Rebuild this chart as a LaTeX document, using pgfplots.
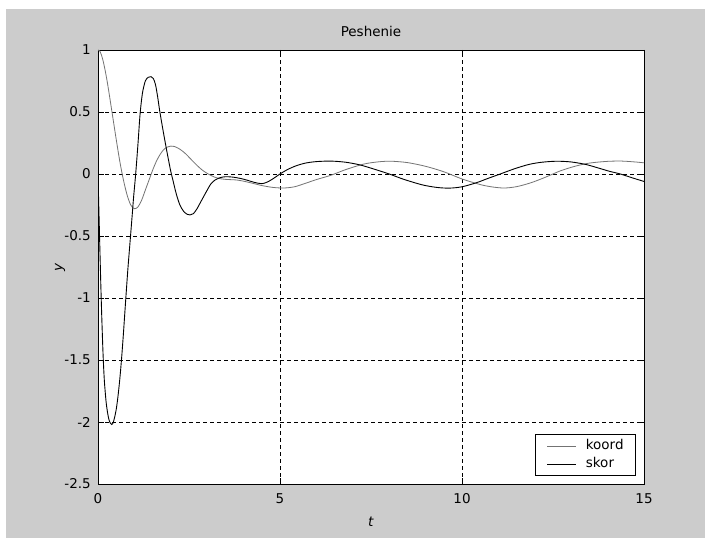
\documentclass[border=0pt]{standalone}
\usepackage{fontspec}
\setmainfont{DejaVu Sans}
\usepackage{pgfplots}
\pgfplotsset{compat=1.18}
\definecolor{figbg}{RGB}{204,204,204}
\definecolor{koordc}{RGB}{115,115,115}

\pgfplotstableread{
t y
0 1.000
0.05 0.99
0.1 0.955
0.15 0.90
0.2 0.83
0.25 0.75
0.3 0.66
0.35 0.565
0.4 0.47
0.5 0.28
0.6 0.10
0.7 -0.05
0.8 -0.17
0.9 -0.25
1.0 -0.28
1.1 -0.265
1.2 -0.21
1.3 -0.13
1.4 -0.05
1.5 0.03
1.6 0.10
1.7 0.155
1.8 0.195
1.9 0.217
2.0 0.225
2.1 0.222
2.25 0.20
2.4 0.165
2.55 0.12
2.7 0.075
2.85 0.035
3.0 0.005
3.2 -0.025
3.4 -0.04
3.6 -0.045
3.8 -0.048
4.0 -0.058
4.25 -0.075
4.5 -0.093
4.8 -0.108
5.1 -0.113
5.4 -0.103
5.7 -0.075
6.0 -0.045
6.4 -0.01
6.8 0.035
7.3 0.08
7.7 0.098
8.05 0.103
8.5 0.092
9.0 0.062
9.5 0.018
10.0 -0.04
10.5 -0.085
10.8 -0.103
11.15 -0.113
11.5 -0.102
11.9 -0.07
12.3 -0.025
12.7 0.025
13.1 0.062
13.5 0.088
14.0 0.102
14.4 0.104
14.8 0.096
15.0 0.09
}\koord

\pgfplotstableread{
t y
0 0
0.02 -0.24
0.04 -0.47
0.06 -0.70
0.08 -0.92
0.10 -1.12
0.12 -1.30
0.14 -1.46
0.16 -1.59
0.18 -1.69
0.22 -1.83
0.26 -1.92
0.3 -1.98
0.34 -2.01
0.375 -2.02
0.41 -2.01
0.45 -1.97
0.5 -1.9
0.55 -1.79
0.6 -1.65
0.65 -1.48
0.7 -1.28
0.76 -1.02
0.82 -0.77
0.88 -0.55
0.94 -0.33
0.98 -0.18
1.035 0.0
1.1 0.25
1.155 0.48
1.22 0.65
1.3 0.75
1.38 0.78
1.456 0.785
1.52 0.77
1.58 0.72
1.64 0.62
1.70 0.5
1.8 0.33
1.9 0.17
2.0 0.02
2.05 -0.04
2.15 -0.16
2.25 -0.25
2.35 -0.30
2.45 -0.325
2.53 -0.33
2.62 -0.32
2.72 -0.28
2.85 -0.21
3.0 -0.13
3.1 -0.08
3.21 -0.05
3.35 -0.03
3.5 -0.022
3.7 -0.025
3.9 -0.035
4.1 -0.05
4.3 -0.068
4.5 -0.078
4.65 -0.065
4.8 -0.04
5.0 0.0
5.2 0.035
5.45 0.067
5.7 0.088
6.0 0.1
6.4 0.104
6.8 0.095
7.2 0.073
7.6 0.038
8.0 0.0
8.4 -0.043
8.9 -0.087
9.3 -0.108
9.65 -0.114
10.0 -0.103
10.4 -0.07
10.7 -0.037
11.05 0.0
11.45 0.043
11.85 0.078
12.2 0.095
12.6 0.103
13.0 0.097
13.4 0.077
13.75 0.048
14.05 0.022
14.35 0.0
14.7 -0.033
15.0 -0.06
}\skor

\begin{document}
\fontsize{13.5bp}{16bp}\selectfont
\begin{tikzpicture}
\fill[white] (0,0) rectangle (705bp,538bp);
\fill[figbg] (6bp,0) rectangle (705bp,529bp);
\begin{axis}[
  at={(98bp,54bp)}, anchor=south west,
  scale only axis, width=546bp, height=434bp,
  xmin=0, xmax=15, ymin=-2.5, ymax=1,
  xtick={0,5,10,15},
  ytick={-2.5,-2,-1.5,-1,-0.5,0,0.5,1},
  axis background/.style={fill=white},
  axis line style={black, line width=0.9bp},
  tick style={black, line width=0.8bp},
  tick align=inside,
  major tick length=6bp,
  grid=major,
  major grid style={black, dash pattern=on 4bp off 3bp, line width=0.7bp},
  /pgf/number format/assume math mode=true,
  every tick label/.append style={inner sep=0pt, font=\fontsize{13.5bp}{16bp}\selectfont},
  yticklabel style={xshift=-7bp},
  xticklabel style={yshift=-9bp},
  title={Peshenie},
  title style={at={(0.5,1)}, anchor=base, yshift=8bp, inner sep=0pt},
  xlabel={\textit{t}},
  xlabel style={at={(0.5,0)}, anchor=base, yshift=-42bp, inner sep=0pt},
  ylabel={\textit{y}},
  ylabel style={at={(0,0.5)}, anchor=center, yshift=38bp, inner sep=0pt},
  legend style={at={(1,0)}, anchor=south east, xshift=-8bp, yshift=8bp,
    draw=black, fill=white, line width=0.8bp, inner xsep=12bp, inner ysep=5bp,
    row sep=5bp,
    nodes={inner sep=0pt, text height=10bp, text depth=3bp, font=\fontsize{13.5bp}{16bp}\selectfont}},
  legend cell align=left,
  legend image code/.code={\draw[#1] (0bp,0bp) -- (29bp,0bp);},
]
\addplot[koordc, line width=0.8bp, smooth] table[x=t, y=y] {\koord};
\addlegendentry{\hspace{9bp}koord}
\addplot[black, line width=0.9bp, smooth] table[x=t, y=y] {\skor};
\addlegendentry{\hspace{9bp}skor}
\end{axis}
\end{tikzpicture}
\end{document}
